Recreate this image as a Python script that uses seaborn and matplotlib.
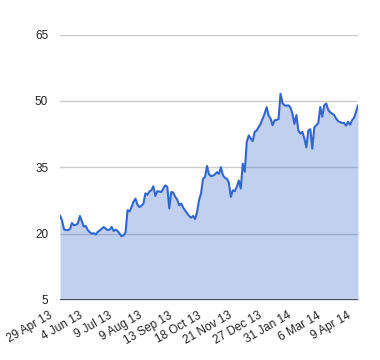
import matplotlib
matplotlib.use("Agg")
import matplotlib.pyplot as plt
import matplotlib.transforms as mtransforms
import numpy as np
import pandas as pd
import seaborn as sns

# ---- data ----
prices = [
    24.1, 23.0, 21.0, 20.8, 20.8, 21.0, 22.4, 21.9, 22.0, 22.3,
    24.0, 22.8, 21.6, 21.7, 20.8, 20.3, 20.0, 20.1, 19.8, 20.4,
    20.7, 21.1, 21.5, 21.1, 20.8, 20.9, 21.5, 20.6, 20.9, 20.6,
    20.0, 19.4, 19.6, 20.3, 25.3, 25.0, 26.0, 27.2, 27.9, 26.5,
    26.0, 26.3, 26.8, 29.1, 28.8, 29.5, 29.8, 30.7, 28.5, 29.6,
    29.5, 29.4, 30.2, 30.9, 30.6, 25.7, 29.4, 29.3, 28.3, 27.7,
    26.4, 26.8, 25.9, 25.2, 24.6, 24.0, 23.6, 24.0, 23.3, 24.9,
    27.6, 29.1, 32.4, 32.8, 35.3, 33.4, 33.0, 33.1, 33.4, 33.9,
    33.5, 35.0, 33.2, 32.6, 32.4, 31.5, 28.3, 29.8, 29.6, 30.6,
    32.0, 30.2, 35.8, 34.0, 40.7, 42.2, 41.5, 40.9, 43.0, 43.3,
    44.1, 44.8, 46.0, 47.1, 48.6, 46.7, 46.0, 44.5, 45.6, 45.7,
    45.9, 51.6, 49.5, 49.0, 48.9, 49.0, 48.5, 47.1, 44.8, 46.8,
    43.3, 42.6, 43.0, 41.5, 39.5, 43.3, 43.6, 39.2, 44.0, 44.5,
    45.0, 48.6, 46.4, 49.0, 49.4, 48.0, 47.4, 47.1, 46.8, 46.0,
    45.4, 45.2, 45.0, 45.0, 44.4, 45.3, 44.6, 45.6, 46.2, 47.5,
    49.0,
]
date_labels = ["29 Apr 13", "4 Jun 13", "9 Jul 13", "9 Aug 13", "13 Sep 13",
               "18 Oct 13", "21 Nov 13", "27 Dec 13", "31 Jan 14", "6 Mar 14",
               "9 Apr 14"]
y_ticks = [5, 20, 35, 50, 65]

df = pd.DataFrame({"idx": np.arange(len(prices)), "price": prices})

sns.set_style("white")
plt.rcParams["font.family"] = ["Liberation Sans", "DejaVu Sans"]

fig = plt.figure(figsize=(3.8, 3.6), dpi=100)
ax = fig.add_axes([60 / 380, 60 / 360, 298 / 380, 265.5 / 360])

line_color = "#3366cc"
ax.fill_between(df["idx"], df["price"], y_ticks[0], color=line_color,
                alpha=0.3, linewidth=0, zorder=2)
sns.lineplot(data=df, x="idx", y="price", ax=ax, color=line_color,
             linewidth=1.5, zorder=3)

ax.set_xlim(0, len(prices) - 1)
ax.set_ylim(y_ticks[0], y_ticks[-1])
ax.set_yticks(y_ticks)
ax.set_yticklabels([str(v) for v in y_ticks])
for v in y_ticks[1:]:
    ax.axhline(v, color="#cccccc", linewidth=1, zorder=1)
ax.axhline(y_ticks[0], color="#333333", linewidth=1.2, zorder=4)

ax.tick_params(axis="both", length=0, labelsize=8.5, colors="#222222")
ax.tick_params(axis="y", pad=8.5)
ax.tick_params(axis="x", pad=7)

xt = np.linspace(0, len(prices) - 1, len(date_labels))
ax.set_xticks(xt)
ax.set_xticklabels(date_labels, rotation=30, ha="right",
                   rotation_mode="anchor", fontsize=8.5, color="#222222")
ax.set_xlabel("")
ax.set_ylabel("")
for s in ax.spines.values():
    s.set_visible(False)

offset = mtransforms.ScaledTranslation(-11 / 100, 0, fig.dpi_scale_trans)
for lab in ax.xaxis.get_majorticklabels():
    lab.set_transform(lab.get_transform() + offset)

fig.savefig("out.png", dpi=100)
